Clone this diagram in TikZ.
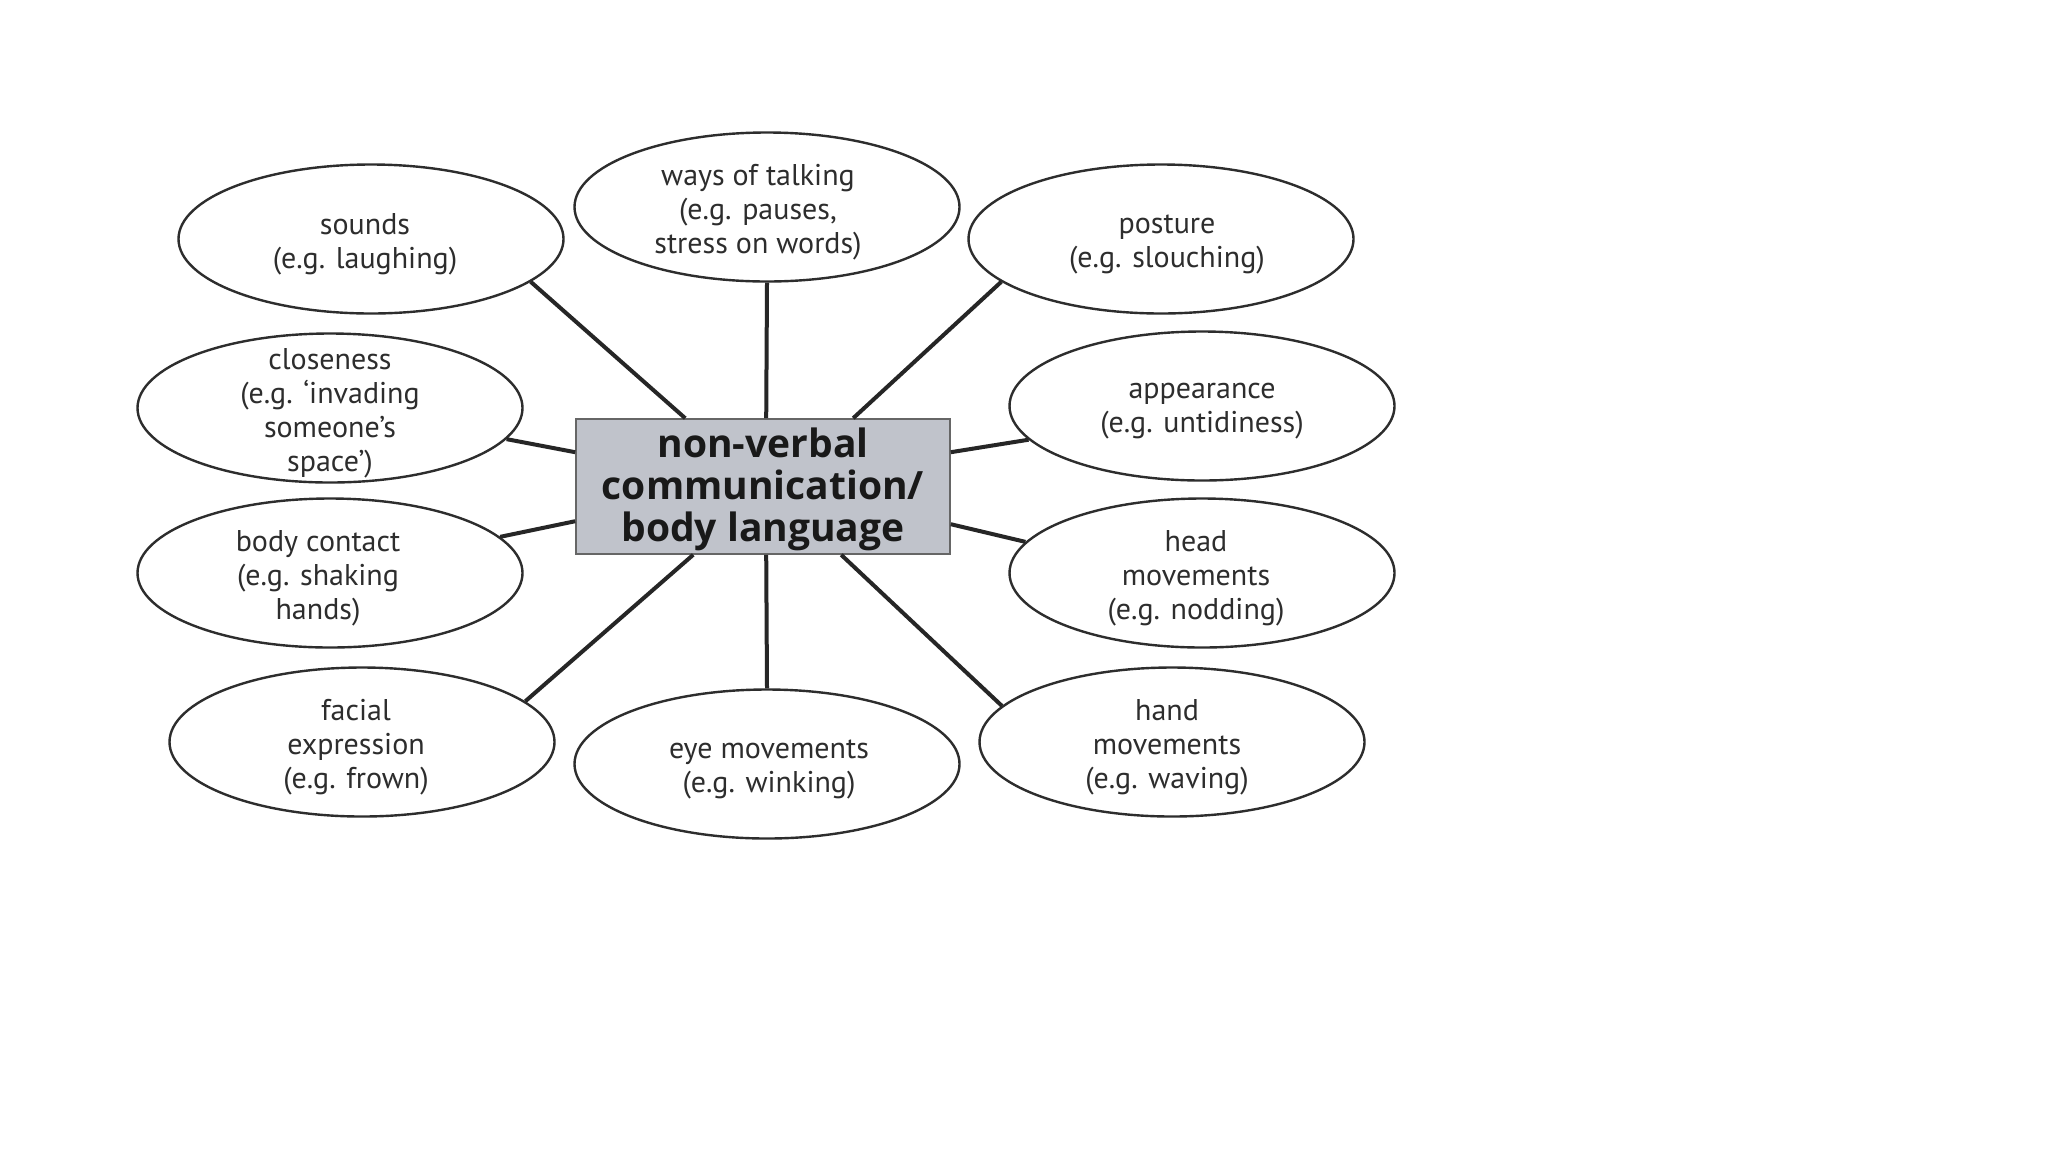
\documentclass[tikz,border=0pt]{standalone}
\usepackage{fontspec}
\setmainfont{PT Sans}
\newfontfamily\hubfont{Open Sans}
\usetikzlibrary{shapes.geometric,calc}
\definecolor{ink}{RGB}{45,45,45}
\definecolor{boxfill}{RGB}{192,195,203}
\begin{document}
\begin{tikzpicture}[x=0.5pt,y=-0.5pt,
  oval/.style={ellipse,draw=ink,line width=1.2pt,minimum width=192.5pt,minimum height=74.5pt,inner sep=0pt},
  lbl/.style={align=center,font=\fontsize{15}{17}\selectfont,text=ink,inner sep=0pt,yshift=-2.5pt},
  link/.style={line width=2pt,draw=black!85},
  hub/.style={draw=black!60,line width=0.8pt,fill=boxfill,minimum width=187pt,minimum height=67.5pt,inner sep=0pt},
  hubtxt/.style={align=center,inner sep=0pt,text=black!90,yshift=-1.5pt,font=\hubfont\bfseries\fontsize{19.5}{21}\selectfont}]
\useasboundingbox[fill=white] (0,0) rectangle (2048,1152);

\node[hub,label={[hubtxt]center:{non-verbal\\communication/\\body language}}] (box) at (763,486.5) {};

\node[oval,label={[lbl,xshift=-3pt]center:{sounds\\(e.g. laughing)}}] (sounds) at (371,239) {};
\node[oval,label={[lbl,xshift=-4.5pt]center:{ways of talking\\(e.g. pauses,\\stress on words)}}] (ways) at (767,207) {};
\node[oval,label={[lbl,xshift=3pt]center:{posture\\(e.g. slouching)}}] (posture) at (1161,239) {};
\node[oval,label={[lbl]center:{closeness\\(e.g. ‘invading\\someone’s\\space’)}}] (closeness) at (330,408) {};
\node[oval,label={[lbl]center:{appearance\\(e.g. untidiness)}}] (appearance) at (1202,406) {};
\node[oval,label={[lbl,xshift=-6pt]center:{body contact\\(e.g. shaking\\hands)}}] (body) at (330,573) {};
\node[oval,label={[lbl,xshift=-3pt]center:{head\\movements\\(e.g. nodding)}}] (head) at (1202,573) {};
\node[oval,label={[lbl,xshift=-3pt]center:{facial\\expression\\(e.g. frown)}}] (facial) at (362,742) {};
\node[oval,label={[lbl,xshift=1pt]center:{eye movements\\(e.g. winking)}}] (eye) at (767,764) {};
\node[oval,label={[lbl,xshift=-2.5pt]center:{hand\\movements\\(e.g. waving)}}] (hand) at (1172,742) {};

\coordinate (bSounds) at ($(box.north west)+(110,0)$);
\coordinate (bWays) at ($(box.north west)+(191,0)$);
\coordinate (bPosture) at ($(box.north west)+(278,0)$);
\coordinate (bClose) at ($(box.north west)+(0,34)$);
\coordinate (bAppear) at ($(box.north east)+(0,34)$);
\coordinate (bBody) at ($(box.north west)+(0,103)$);
\coordinate (bHead) at ($(box.north east)+(0,106)$);
\coordinate (bFacial) at ($(box.south west)+(118,0)$);
\coordinate (bEye) at ($(box.south west)+(191,0)$);
\coordinate (bHand) at ($(box.south west)+(266,0)$);

\draw[link] (bSounds) -- (sounds.-15);
\draw[link] (bWays) -- (ways.-90);
\draw[link] (bPosture) -- (posture.-165);
\draw[link] (bClose) -- (closeness.-10);
\draw[link] (bAppear) -- (appearance.-169);
\draw[link] (bBody) -- (body.12);
\draw[link] (bHead) -- (head.170);
\draw[link] (bFacial) -- (facial.14);
\draw[link] (bEye) -- (eye.90);
\draw[link] (bHand) -- (hand.168);
\end{tikzpicture}
\end{document}
